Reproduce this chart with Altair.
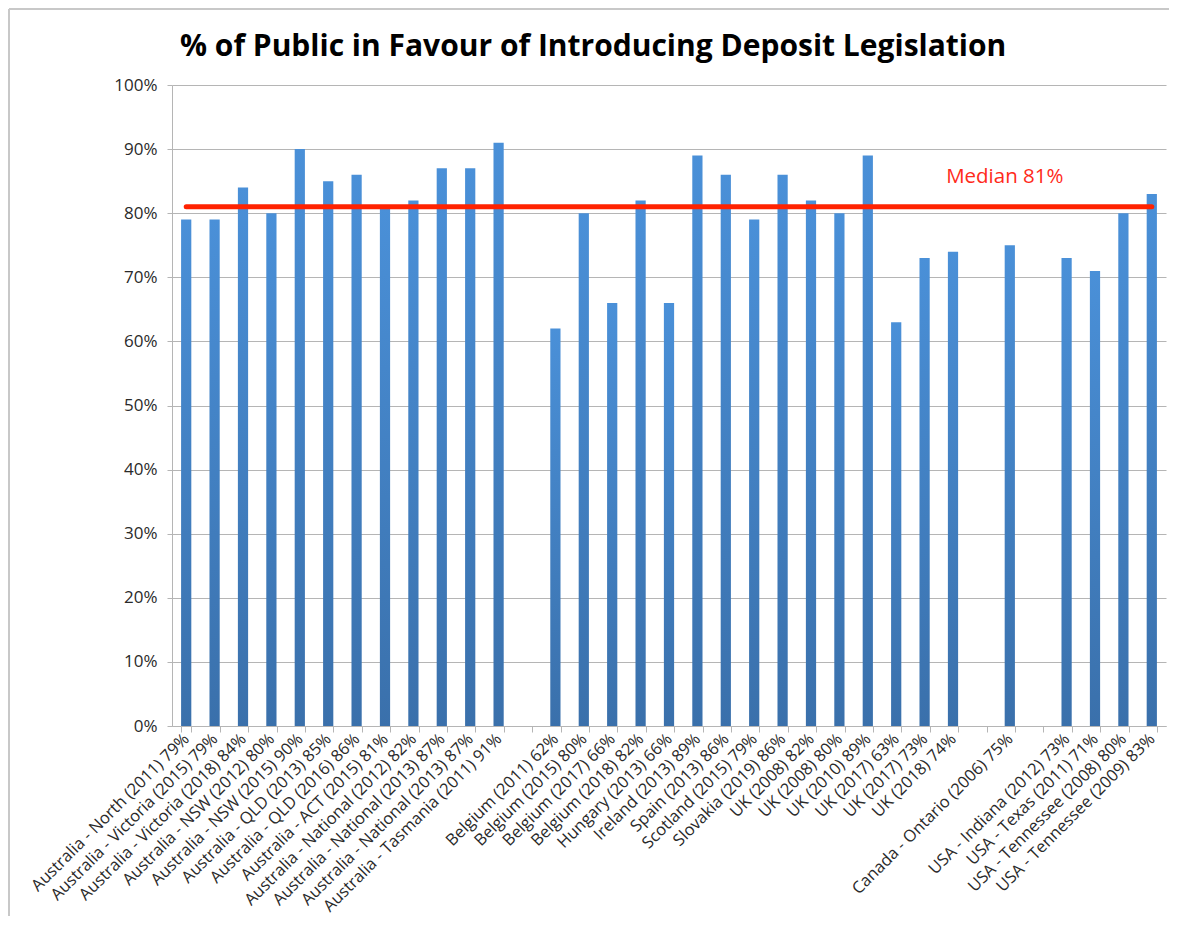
import altair as alt
import pandas as pd

categories = [
    "Australia - North (2011) 79%",
    "Australia - Victoria (2015) 79%",
    "Australia - Victoria (2018) 84%",
    "Australia - NSW (2012) 80%",
    "Australia - NSW (2015) 90%",
    "Australia - QLD (2013) 85%",
    "Australia - QLD (2016) 86%",
    "Australia - ACT (2015) 81%",
    "Australia - National (2012) 82%",
    "Australia - National (2013) 87%",
    "Australia - National (2013) 87% ",
    "Australia - Tasmania (2011) 91%",
    " ",
    "Belgium (2011) 62%",
    "Belgium (2015) 80%",
    "Belgium (2017) 66%",
    "Belgium (2018) 82%",
    "Hungary (2013) 66%",
    "Ireland (2013) 89%",
    "Spain (2013) 86%",
    "Scotland (2015) 79%",
    "Slovakia (2019) 86%",
    "UK (2008) 82%",
    "UK (2008) 80%",
    "UK (2010) 89%",
    "UK (2017) 63%",
    "UK (2017) 73%",
    "UK (2018) 74%",
    "  ",
    "Canada - Ontario (2006) 75%",
    "   ",
    "USA - Indiana (2012) 73%",
    "USA - Texas (2011) 71%",
    "USA - Tennessee (2008) 80%",
    "USA - Tennessee (2009) 83%",
]
values = [79, 79, 84, 80, 90, 85, 86, 81, 82, 87, 87, 91, None,
          62, 80, 66, 82, 66, 89, 86, 79, 86, 82, 80, 89, 63, 73, 74, None,
          75, None, 73, 71, 80, 83]
median_value = 81
median_label = "Median 81%"
title_text = "% of Public in Favour of Introducing Deposit Legislation"

df = pd.DataFrame({"cat": categories, "val": [v / 100 if v is not None else None for v in values]})
med = pd.DataFrame({"start": [categories[0]], "end": [categories[-1]],
                    "y": [median_value / 100], "label": [median_label],
                    "pos": ["Canada - Ontario (2006) 75%"], "title": [title_text]})

FONT = "Open Sans"
GRID = "#b5b5b5"
LABEL = "#2a2a2a"

xscale = alt.Scale(domain=categories, paddingInner=0.64, paddingOuter=0.32)
yscale = alt.Scale(domain=[0, 1])

bars = alt.Chart(df).mark_bar(
    color=alt.Gradient(
        gradient="linear", x1=0, y1=0, x2=0, y2=1,
        stops=[alt.GradientStop(color="#4a90d8", offset=0),
               alt.GradientStop(color="#3a70ab", offset=1)],
    )
).encode(
    x=alt.X("cat:N", scale=xscale, sort=categories, title=None,
            axis=alt.Axis(labelAngle=315, labelAlign="right", labelBaseline="middle",
                          labelPadding=4, labelFontSize=16.5, labelFont=FONT,
                          labelColor=LABEL, tickBand="extent", tickColor=GRID,
                          tickSize=6, domainColor=GRID, labelOverlap=False,
                          labelLimit=400, grid=False)),
    y=alt.Y("val:Q", scale=yscale, title=None,
            axis=alt.Axis(format="%", values=[i / 10 for i in range(11)],
                          labelFontSize=17, labelFont=FONT, labelColor=LABEL,
                          labelPadding=10, tickColor=GRID, tickSize=5,
                          domainColor=GRID, gridColor=GRID)),
)

rule = alt.Chart(med).mark_rule(color="#ff2200", strokeWidth=5, strokeCap="round").encode(
    x=alt.X("start:N", scale=xscale, sort=categories),
    x2="end:N",
    y=alt.Y("y:Q", scale=yscale),
)

txt = alt.Chart(med).mark_text(color="#ff2a1a", fontSize=20.5, font=FONT, dx=-5, dy=-30).encode(
    x=alt.X("pos:N", scale=xscale, sort=categories),
    y=alt.Y("y:Q", scale=yscale),
    text="label:N",
)

title = alt.Chart(med).mark_text(fontSize=30, font=FONT, fontWeight="bold", color="#000",
                                 align="left", baseline="alphabetic").encode(
    x=alt.value(8), y=alt.value(-29), text="title:N"
)

frame_top = alt.Chart(med).mark_rule(color="#c8c8c8", strokeWidth=2).encode(
    x=alt.value(-163), x2=alt.value(1010), y=alt.value(-76)
)
frame_left = alt.Chart(med).mark_rule(color="#c8c8c8", strokeWidth=2).encode(
    x=alt.value(-163), y=alt.value(-76), y2=alt.value(920)
)

chart = alt.layer(bars, rule, txt, title, frame_top, frame_left).properties(
    width=994, height=641,
    autosize=alt.AutoSizeParams(type="none"),
    padding={"left": 164, "top": 77, "right": 3, "bottom": 190},
).configure_view(stroke=None)

chart.save("out.html", embed_options={"renderer": "svg", "actions": False})
